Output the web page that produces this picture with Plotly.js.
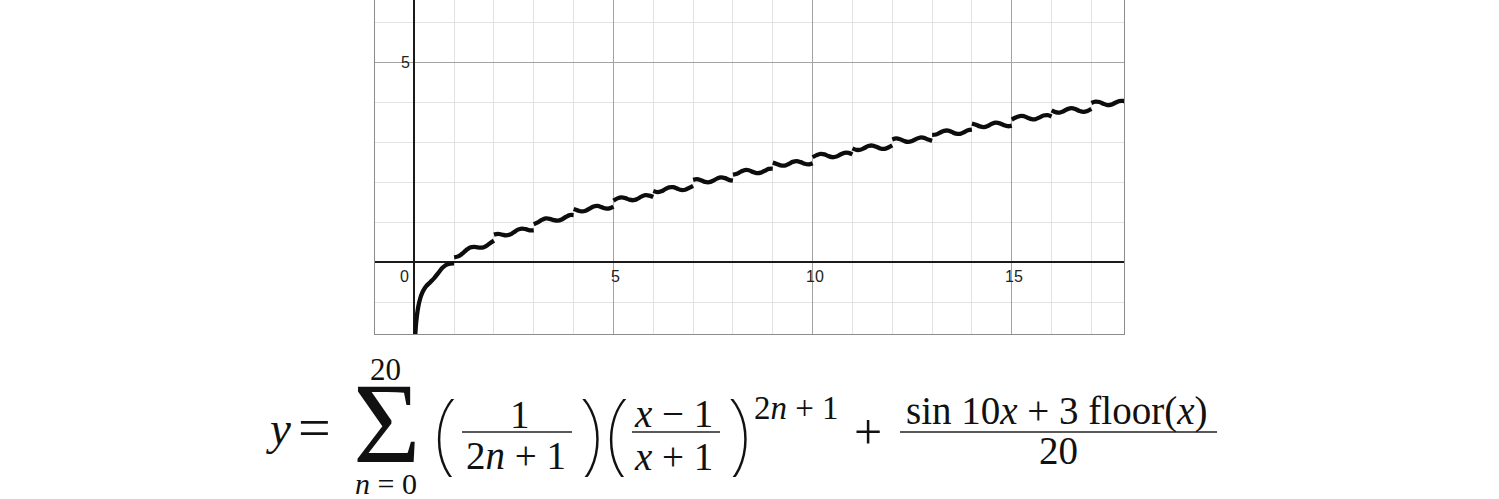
<!DOCTYPE html>
<html><head><meta charset="utf-8">
<script src="https://cdn.plot.ly/plotly-3.0.1.min.js"></script>
<style>html,body{margin:0;padding:0;background:#fff;}#chart{width:1499px;height:499px;}</style>
</head><body><div id="chart"></div>
<script>
// Curve values (segments separated by null at each integer jump)
const curveX = [
0.01,0.02,0.03,0.05,0.1,0.15,0.2,0.25,0.3,0.4,0.5,0.6,0.7,0.8,0.9,1,null,
1,1.1,1.2,1.3,1.4,1.5,1.6,1.7,1.8,1.9,2,null,
2,2.1,2.2,2.3,2.4,2.5,2.6,2.7,2.8,2.9,3,null,
3,3.1,3.2,3.3,3.4,3.5,3.6,3.7,3.8,3.9,4,null,
4,4.1,4.2,4.3,4.4,4.5,4.6,4.7,4.8,4.9,5,null,
5,5.1,5.2,5.3,5.4,5.5,5.6,5.7,5.8,5.9,6,null,
6,6.1,6.2,6.3,6.4,6.5,6.6,6.7,6.8,6.9,7,null,
7,7.1,7.2,7.3,7.4,7.5,7.6,7.7,7.8,7.9,8,null,
8,8.1,8.2,8.3,8.4,8.5,8.6,8.7,8.8,8.9,9,null,
9,9.1,9.2,9.3,9.4,9.5,9.6,9.7,9.8,9.9,10,null,
10,10.1,10.2,10.3,10.4,10.5,10.6,10.7,10.8,10.9,11,null,
11,11.1,11.2,11.3,11.4,11.5,11.6,11.7,11.8,11.9,12,null,
12,12.1,12.2,12.3,12.4,12.5,12.6,12.7,12.8,12.9,13,null,
13,13.1,13.2,13.3,13.4,13.5,13.6,13.7,13.8,13.9,14,null,
14,14.1,14.2,14.3,14.4,14.5,14.6,14.7,14.8,14.9,15,null,
15,15.1,15.2,15.3,15.4,15.5,15.6,15.7,15.8,15.9,16,null,
16,16.1,16.2,16.3,16.4,16.5,16.6,16.7,16.8,16.9,17,null,
17,17.1,17.2,17.3,17.4,17.5,17.6,17.7,17.8,17.9,18
];
const curveY = [
-2.05,-1.892,-1.723,-1.472,-1.109,-0.899,-0.759,-0.663,-0.595,-0.496,-0.395,-0.269,-0.145,-0.062,-0.032,-0.027,null,
0.123,0.148,0.214,0.302,0.368,0.385,0.371,0.367,0.406,0.478,0.542,null,
0.692,0.713,0.694,0.674,0.693,0.752,0.816,0.844,0.828,0.799,0.800,null,
0.950,0.996,1.059,1.097,1.088,1.055,1.041,1.072,1.132,1.179,1.181,null,
1.331,1.298,1.272,1.288,1.342,1.395,1.408,1.380,1.346,1.347,1.392,null,
1.542,1.598,1.624,1.604,1.565,1.552,1.585,1.642,1.679,1.669,1.631,null,
1.781,1.756,1.775,1.829,1.874,1.877,1.842,1.808,1.814,1.860,1.912,null,
2.062,2.078,2.050,2.010,2.002,2.038,2.092,2.121,2.103,2.061,2.040,null,
2.190,2.214,2.268,2.307,2.301,2.261,2.230,2.241,2.289,2.336,2.343,null,
2.493,2.460,2.421,2.418,2.458,2.510,2.530,2.505,2.463,2.446,2.476,null,
2.626,2.679,2.711,2.697,2.655,2.627,2.644,2.694,2.736,2.735,2.697,null,
2.847,2.810,2.814,2.858,2.906,2.919,2.887,2.845,2.835,2.870,2.922,null,
3.072,3.097,3.076,3.032,3.009,3.032,3.083,3.119,3.111,3.069,3.036,null,
3.186,3.196,3.243,3.287,3.292,3.256,3.216,3.212,3.251,3.301,3.319,null,
3.469,3.441,3.397,3.380,3.409,3.461,3.490,3.474,3.430,3.402,3.418,null,
3.568,3.618,3.657,3.654,3.614,3.577,3.580,3.623,3.670,3.680,3.647,null,
3.797,3.754,3.744,3.778,3.829,3.852,3.829,3.784,3.761,3.784,3.834,null,
3.984,4.018,4.008,3.965,3.931,3.941,3.988,4.031,4.034,3.996,3.955
];
const xTickVals = [5, 10, 15];
const xTickText = ['5', '10', '15'];
const yTickVals = [5];
const yTickText = ['5'];
const originText = '0';

// ---- layout geometry (pixels) ----
const W = 1499, H = 499;
const L = 375, R = 375, T = 0, B = 165;
const plotW = W - L - R, plotH = H - T - B;
const px = v => (v - L) / plotW;
const py = v => (H - B - v) / plotH;

const mathFont = 'Liberation Serif, Times New Roman, serif';
const parenFont = {family: 'Noto Sans, sans-serif', size: 92, color: '#111', weight: 100};

function txt(x, y, text, size, extra) {
  return Object.assign({
    xref: 'paper', yref: 'paper', x: px(x), y: py(y), text: text,
    showarrow: false, xanchor: 'center', yanchor: 'middle',
    font: {family: mathFont, size: size, color: '#111'}
  }, extra || {});
}
function bar(x0, x1, y) {
  return {type: 'line', xref: 'paper', yref: 'paper', x0: px(x0), x1: px(x1), y0: py(y), y1: py(y),
    line: {color: '#222', width: 1.3}};
}

const tickFont = {family: 'Liberation Sans, Arial, sans-serif', size: 16, color: '#222'};
const annotations = [];
xTickVals.forEach((v, i) => annotations.push({xref: 'x', yref: 'y', x: v, y: 0, text: xTickText[i],
  showarrow: false, xshift: 2, yshift: -14, font: tickFont}));
yTickVals.forEach((v, i) => annotations.push({xref: 'x', yref: 'y', x: 0, y: v, text: yTickText[i],
  showarrow: false, xshift: -9, yshift: 0, font: tickFont}));
annotations.push({xref: 'x', yref: 'y', x: 0, y: 0, text: originText, showarrow: false,
  xshift: -10, yshift: -14, font: tickFont});

// ---- formula ----
annotations.push(txt(278, 428, '<i>y</i>', 47));
annotations.push(txt(314, 427, '=', 58, {height: 40}));
annotations.push(txt(385, 369, '20', 31, {height: 26}));
annotations.push(txt(387, 424, 'Σ', 116, {height: 76}));
annotations.push(txt(386, 483, '<i>n</i> = 0', 30, {height: 24}));
annotations.push(txt(445, 429, '(', 0, {font: parenFont, height: 96}));
annotations.push(txt(520, 414, '1', 39));
annotations.push(txt(516, 455, '2<i>n</i> + 1', 39));
annotations.push(txt(590, 429, ')', 0, {font: parenFont, height: 96}));
annotations.push(txt(617, 429, '(', 0, {font: parenFont, height: 96}));
annotations.push(txt(673, 413, '<i>x</i> − 1', 39));
annotations.push(txt(673, 456, '<i>x</i> + 1', 39));
annotations.push(txt(738, 429, ')', 0, {font: parenFont, height: 96}));
annotations.push(txt(796, 408, '2<i>n</i> + 1', 33));
annotations.push(txt(868, 432, '+', 50, {height: 36}));
annotations.push(txt(1056, 411, 'sin 10<i>x</i> + 3 floor(<i>x</i>)', 39));
annotations.push(txt(1058, 450, '20', 39));

const shapes = [bar(462, 572, 432), bar(632, 720, 432), bar(900, 1217, 432)];

const xScale = 39.83, yScale = 40.0;
const x0px = 414.3, y0px = 262.3;
const xr = [(L - x0px) / xScale, (L + plotW - x0px) / xScale];
const yr = [(y0px - (H - B)) / yScale, (y0px - T) / yScale];

const axisCommon = {
  dtick: 5, tick0: 0, showgrid: true, gridcolor: '#a3a3a3', gridwidth: 1,
  minor: {dtick: 1, tick0: 0, showgrid: true, gridcolor: '#e2e2e2', gridwidth: 1},
  zeroline: true, zerolinecolor: '#1a1a1a', zerolinewidth: 2,
  showticklabels: false, ticks: '', showline: true, linecolor: '#8c8c8c', linewidth: 1,
  fixedrange: true
};

const trace = {
  x: curveX, y: curveY, type: 'scatter', mode: 'lines', connectgaps: false,
  line: {color: '#0d0d0d', width: 4.3, shape: 'spline', smoothing: 1},
  hoverinfo: 'skip'
};

const layout = {
  width: W, height: H,
  margin: {l: L, r: R, t: T, b: B, pad: 0},
  paper_bgcolor: '#ffffff', plot_bgcolor: '#ffffff',
  showlegend: false,
  xaxis: Object.assign({}, axisCommon, {range: xr, mirror: false}),
  yaxis: Object.assign({}, axisCommon, {range: yr, mirror: true}),
  annotations: annotations,
  shapes: shapes
};

Plotly.newPlot('chart', [trace], layout, {displayModeBar: false, staticPlot: true});
</script>
</body></html>
